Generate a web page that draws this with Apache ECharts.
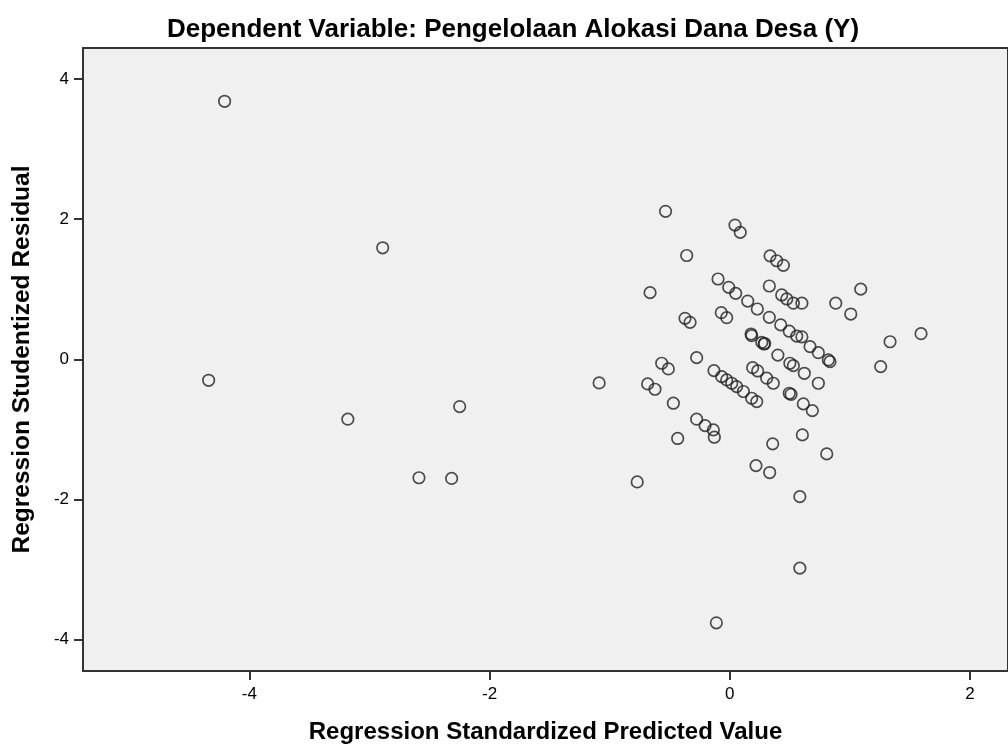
<!DOCTYPE html>
<html>
<head>
<meta charset="utf-8">
<script src="https://cdn.jsdelivr.net/npm/echarts@6/dist/echarts.min.js"></script>
<style>
html,body{margin:0;padding:0;background:#fff;}
#chart{width:1008px;height:752px;}
</style>
</head>
<body>
<div id="chart"></div>
<script>
// Regression Standardized Predicted Value
var predicted = [
 -4.206,-2.890,-4.339,-3.180,-2.249,-2.588,-2.316,
 -1.088,-0.771,-0.535,-0.112,0.583,0.583,0.218,0.332,0.807,0.357,0.604,
 0.043,0.087,-0.359,0.335,0.390,0.446,-0.098,-0.009,0.049,0.329,-0.664,
 0.149,0.229,0.329,0.432,0.474,0.529,0.600,0.882,1.090,1.007,
 -0.071,-0.026,-0.373,-0.331,0.177,0.424,0.495,0.557,0.600,
 1.334,1.592,0.182,0.266,0.285,0.290,0.400,-0.276,-0.567,-0.512,-0.684,-0.623,
 -0.132,-0.068,-0.026,0.016,0.057,0.113,0.182,0.224,0.190,0.232,0.307,0.362,
 -0.470,-0.276,-0.206,-0.137,-0.129,-0.434,
 0.668,0.737,0.820,0.834,1.256,0.500,0.529,0.620,0.737,0.495,0.510,0.612,0.687
];
// Regression Studentized Residual
var residual = [
 3.68,1.59,-0.30,-0.855,-0.675,-1.69,-1.70,
 -0.338,-1.75,2.11,-3.76,-2.98,-1.96,-1.517,-1.616,-1.35,-1.207,-1.079,
 1.914,1.81,1.48,1.475,1.405,1.34,1.145,1.026,0.94,1.045,0.95,
 0.83,0.717,0.598,0.917,0.86,0.80,0.80,0.80,1.00,0.645,
 0.664,0.593,0.584,0.527,0.36,0.49,0.40,0.33,0.32,
 0.25,0.365,0.336,0.24,0.218,0.225,0.06,0.023,-0.057,-0.138,-0.352,-0.428,
 -0.162,-0.248,-0.295,-0.342,-0.39,-0.46,-0.556,-0.604,-0.12,-0.167,-0.27,-0.342,
 -0.627,-0.855,-0.946,-1.008,-1.112,-1.13,
 0.18,0.094,-0.01,-0.034,-0.105,-0.057,-0.091,-0.20,-0.342,-0.485,-0.50,-0.637,-0.733
];
var xTicks = [-4, -2, 0, 2];
var yTicks = [-4, -2, 0, 2, 4];
var titleText = 'Dependent Variable: Pengelolaan Alokasi Dana Desa (Y)';
var xName = 'Regression Standardized Predicted Value';
var yName = 'Regression Studentized Residual';

var pts = predicted.map(function (x, i) { return [x, residual[i]]; });
var FONT = '"Liberation Sans", Arial, sans-serif';

var chart = echarts.init(document.getElementById('chart'), null, {renderer: 'canvas'});
chart.setOption({
  animation: false,
  backgroundColor: '#ffffff',
  title: {
    text: titleText,
    left: 508, top: 12, textAlign: 'center',
    textStyle: {fontFamily: FONT, fontSize: 26, fontWeight: 'bold', color: '#000'}
  },
  grid: {
    left: 83, top: 48, right: -2, bottom: 81,
    show: true, backgroundColor: '#f0f0f0', borderColor: '#333', borderWidth: 2
  },
  xAxis: {
    type: 'value', min: -5.385, max: 2.316,
    name: xName, nameLocation: 'middle', nameGap: 49,
    nameTextStyle: {fontFamily: FONT, fontSize: 24, fontWeight: 'bold', color: '#000'},
    axisLine: {show: true, onZero: false, lineStyle: {color: '#333', width: 2}},
    axisTick: {show: true, customValues: xTicks, length: 9, lineStyle: {color: '#333', width: 2}},
    axisLabel: {customValues: xTicks, margin: 15, fontFamily: FONT, fontSize: 17, color: '#000'},
    splitLine: {show: false}
  },
  yAxis: {
    type: 'value', min: -4.447, max: 4.44,
    name: yName, nameLocation: 'middle', nameGap: 48, nameRotate: 90,
    nameTextStyle: {fontFamily: FONT, fontSize: 24.5, fontWeight: 'bold', color: '#000'},
    axisLine: {show: true, onZero: false, lineStyle: {color: '#333', width: 2}},
    axisTick: {show: true, customValues: yTicks, length: 9, lineStyle: {color: '#333', width: 2}},
    axisLabel: {customValues: yTicks, margin: 14, fontFamily: FONT, fontSize: 17, color: '#000'},
    splitLine: {show: false}
  },
  series: [{
    type: 'scatter',
    data: pts,
    symbol: 'circle',
    symbolSize: 11.5,
    itemStyle: {color: 'rgba(0,0,0,0)', borderColor: '#222', borderWidth: 1.7}
  }]
});
</script>
</body>
</html>
